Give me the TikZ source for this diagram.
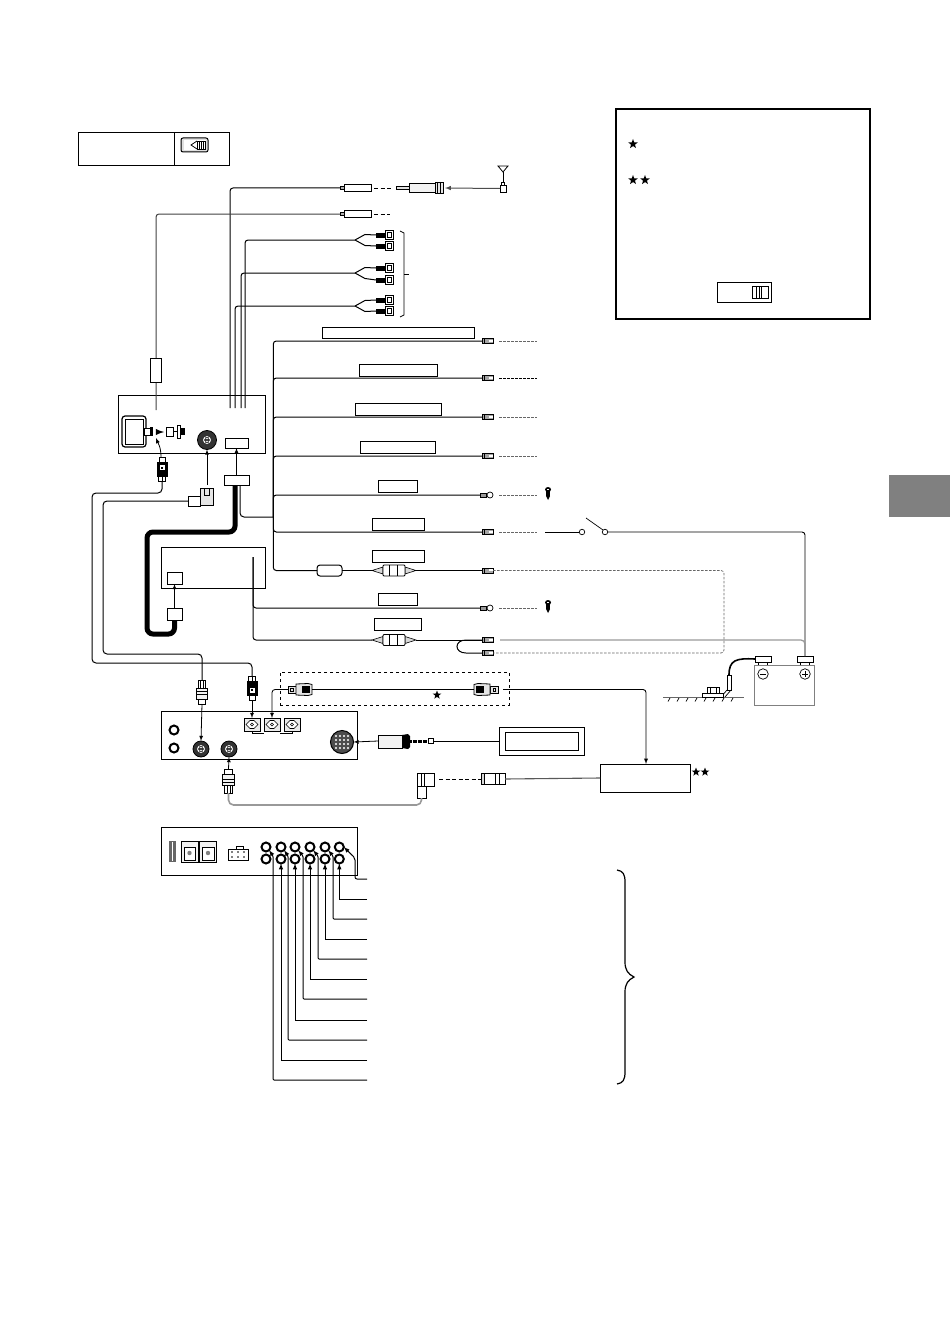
\documentclass[tikz,border=0pt]{standalone}
\usepackage{xcolor}
\usepackage{tikz}
\usetikzlibrary{shapes.geometric}

\tikzset{
  wire/.style={line width=1pt},
  graywire/.style={line width=1.3pt, color=black!40},
  stub/.style={line width=0.7pt, dashed, dash pattern=on 2.5pt off 1.5pt, color=black!60},
  darkstub/.style={line width=0.8pt, dash pattern=on 4pt off 2.5pt},
  box/.style 2 args={draw, line width=1pt, anchor=north west, inner sep=0pt, outer sep=0pt,
    minimum width=#1pt, minimum height=#2pt},
  lug/.style={draw, line width=0.5pt, fill=black!35, inner sep=0pt, outer sep=0pt,
    minimum width=11pt, minimum height=5pt,
    path picture={
      \draw[white, line width=0.6pt] ([xshift=2pt]path picture bounding box.center) rectangle ++(3pt,1.2pt);
      \draw[black, line width=0.7pt] ([xshift=-3pt]path picture bounding box.north) -- ([xshift=-3pt]path picture bounding box.south);
    }},
  ringtail/.style={draw, line width=0.5pt, fill=black!40, inner sep=0pt, outer sep=0pt,
    minimum width=6pt, minimum height=4pt},
  ringeye/.style={circle, draw, line width=0.7pt, fill=white, inner sep=0pt, outer sep=0pt, minimum size=6pt},
  jack/.style={circle, draw, line width=2pt, fill=white, inner sep=0pt, outer sep=0pt, minimum size=9pt},
  din/.style={circle, draw, line width=0.8pt, fill=black!80, inner sep=0pt, outer sep=0pt, minimum size=#1pt,
    path picture={
      \draw[white, line width=0.5pt] (path picture bounding box.center) circle (3.6pt);
      \foreach \a in {-2.5,0,2.5} \foreach \b in {-1.5,1.5}
        \fill[white] ([shift={(\a pt,\b pt)}]path picture bounding box.center) circle (0.8pt);
    }},
  bigdin/.style={circle, draw, line width=1pt, fill=black!70, inner sep=0pt, outer sep=0pt, minimum size=#1pt,
    path picture={
      \foreach \a in {-6,-2,2,6} \foreach \b in {-6,-2,2,6}
        \fill[white] ([shift={(\a pt,\b pt)}]path picture bounding box.center) circle (1.1pt);
    }},
  sticker/.style={star, star points=5, star point ratio=2.4, fill=black, inner sep=0pt, minimum size=10pt},
  contact/.style={circle, draw, line width=0.7pt, fill=white, inner sep=0pt, outer sep=0pt, minimum size=5.5pt},
  socket/.style={draw, line width=0.7pt, fill=black!8, inner sep=0pt, outer sep=0pt,
    minimum width=16pt, minimum height=13pt,
    path picture={
      \draw[line width=0.6pt, fill=white] ([xshift=-6pt]path picture bounding box.center) -- ++(4pt,-4pt) -- ++(4pt,0pt) -- ++(4pt,4pt) -- ++(-4pt,4pt) -- ++(-4pt,0pt) -- cycle;
      \draw[line width=0.6pt] (path picture bounding box.center) circle (1.5pt);
    }},
  rcaplug/.pic={
    \coordinate (-in) at (0,0);
    \fill (0,-2.5) rectangle (9,2.5);
    \draw[line width=0.6pt, fill=white] (9,-4.3) rectangle (17,4.3);
    \draw[line width=0.8pt] (11.5,-2.2) rectangle (15.5,2.2);
  },
  lightplug/.pic={
    \coordinate (-top) at (0,-12);
    \coordinate (-bot) at (0,12);
    \draw[line width=0.7pt, fill=white] (-3.8,-12) rectangle (3.8,-4);
    \draw[line width=0.5pt] (-1.3,-12) -- (-1.3,-4) (1.3,-12) -- (1.3,-4);
    \draw[line width=0.7pt, fill=black!5] (-5.8,-4) rectangle (5.8,7);
    \draw[line width=0.5pt] (-5.8,-1) -- (5.8,-1) (-5.8,2) -- (5.8,2);
    \draw[line width=0.7pt, fill=white] (-3.8,7) rectangle (3.8,12);
  },
  darkplug/.pic={
    \coordinate (-top) at (0,-12);
    \coordinate (-bot) at (0,12);
    \draw[line width=0.7pt, fill=white] (-3,-12) rectangle (3,-7);
    \draw[line width=0.9pt, fill=black] (-5,-7) rectangle (5,7);
    \fill[white] (-2.5,-4) rectangle (2.5,1);
    \fill (-1.2,-2.5) rectangle (1.2,-0.5);
    \draw[line width=0.7pt, fill=white] (-3.6,7) rectangle (3.6,12);
    \draw[line width=0.5pt] (0,7) -- (0,12);
  },
  holder/.pic={
    \coordinate (-in) at (-22,0);
    \coordinate (-out) at (22,0);
    \draw[line width=0.6pt, fill=black!15] (-22,0) -- (-11,-3.5) -- (-11,3.5) -- cycle;
    \draw[line width=0.6pt, fill=black!15] (22,0) -- (11,-3.5) -- (11,3.5) -- cycle;
    \draw[line width=0.8pt, fill=white, rounded corners=1] (-11,-5.5) rectangle (11,5.5);
    \draw[line width=0.7pt] (-5,-5.5) -- (-5,5.5) (3,-5.5) -- (3,5.5);
  },
  screw/.pic={
    \fill (0,-4.5) ellipse (3 and 2.5);
    \fill (-2,-3) rectangle (2,2);
    \fill (-2,2) -- (2,2) -- (0,6) -- cycle;
    \fill[white] (-1.4,-5.5) rectangle (1.4,-4.8);
  },
  cableplug/.pic={
    \coordinate (-in) at (0,0);
    \coordinate (-out) at (31,0);
    \draw[line width=0.7pt, fill=black!30] (0,-1.5) rectangle (4,1.5);
    \draw[line width=0.8pt, fill=white] (4,-3.5) rectangle (31,3.5);
  },
  shellplug/.pic={
    \coordinate (-in) at (0,0);
    \coordinate (-out) at (24,0);
    \draw[line width=0.8pt, fill=white] (3,-5.5) rectangle (24,5.5);
    \draw[line width=0.9pt, fill=black!15] (0,-5.5) rectangle (3,5.5);
    \draw[line width=0.6pt] (14,-5.5) -- (14,5.5) (18,-5.5) -- (18,5.5);
  },
  lockplug/.pic={
    \coordinate (-tail) at (0,0);
    \coordinate (-head) at (24,0);
    \draw[line width=0.7pt, fill=black!10] (0,-3.5) rectangle (8,3.5);
    \draw[line width=0.7pt] (2.5,-1.5) rectangle (5,1.5);
    \draw[line width=0.8pt, fill=black!10] (8,-5.5) -- (20,-6) -- (24,-5) -- (24,5) -- (20,6) -- (8,5.5) -- cycle;
    \fill (14,-3.5) rectangle (22,3.5);
  },
  >=latex
}

\begin{document}
\begin{tikzpicture}[x=1pt, y=-1pt]
  \useasboundingbox (0,0) rectangle (950,1343);

  % Side tab
  \fill[color=black!50] (889,475) rectangle (950,517);

  % Small legend top left
  \node[box={96}{33}] (modelBox) at (78,133) {};
  \node[box={55}{33}] (modelIcon) at (174,133) {};
  \node[box={27}{14}, rounded corners=2pt, fill=black!12] (iconFrame) at (181,138) {};
  \fill[white] (184,140) rectangle (206,150);
  \draw[line width=0.8pt] (197,141) -- (191,145) -- (197,149);
  \draw[line width=0.9pt] (197,141) rectangle (205,149);
  \draw[line width=0.9pt] (199,141) -- (199,149) (201,141) -- (201,149) (203,141) -- (203,149);

  % Note box top right
  \node[box={254}{210}, line width=2pt] (noteBox) at (616,109) {};
  \node[sticker] (noteStarA) at (633,144) {};
  \node[sticker] (noteStarB) at (633,180) {};
  \node[sticker] (noteStarC) at (645,180) {};
  \node[box={54}{20}] (noteSwitch) at (717,282) {};
  \node[box={16}{12}, line width=0.8pt] (noteSlider) at (752,286) {};
  \draw[line width=0.7pt] (756,286) -- (756,298) (759.5,286) -- (759.5,298) (761.5,286) -- (761.5,298);

  % Head unit
  \node[box={147}{58}] (headUnit) at (118,395) {};
  \node[box={23}{10}] (headPort) at (225,438) {};
  \node[din=19] (headDin) at (207,440) {};
  \node[box={24}{31}, rounded corners=3pt, line width=1.2pt] (tunerLoop) at (122,416) {};
  \draw[line width=0.5pt] (125,419) rectangle (143,444);
  \draw[line width=0.8pt, fill=white] (144,428) rectangle (150,435);
  \fill (150,427) rectangle (153,436);
  \draw[->, line width=1.8pt] (156,432) -- (164,432);
  \draw[line width=0.8pt, fill=white] (166,427) rectangle (173,436);
  \draw[line width=0.8pt] (173,431) -- (177,431);
  \draw[line width=0.8pt, fill=white] (177,425) rectangle (180,438);
  \fill (181,428) rectangle (185,435);

  % Antenna
  \coordinate (antTop) at (503,172);
  \draw[line width=0.8pt] (498,166) -- (508,166) -- (antTop) -- cycle;
  \node[box={6}{7}, line width=0.8pt] (antFoot) at (500,185) {};
  \draw[line width=0.8pt] (antTop) -- (antFoot.north);
  \draw[line width=0.6pt, fill=white] (501.5,182) rectangle (504.5,185);
  \coordinate (antJoin) at (445,188);
  \draw[->, line width=1pt, color=black!70] (antFoot.west) -- (antJoin);
  \draw[line width=0.7pt, fill=black!12] (396,186) rectangle (409,189.5);
  \draw[line width=0.8pt, fill=black!5] (409,183) rectangle (435,192);
  \draw[line width=0.8pt, fill=black!10] (435,182) rectangle (443,193);
  \draw[line width=0.5pt] (437.5,182) -- (437.5,193) (440,182) -- (440,193);

  % Upper cables from head unit
  \coordinate (antWire) at (230,408);
  \coordinate (rearWire) at (156,410);
  \pic (antPlug) at (340,188) {cableplug};
  \pic (rearPlug) at (340,214) {cableplug};
  \draw[wire, rounded corners=3] (antWire) |- (antPlug-in);
  \draw[wire, rounded corners=3, color=black!75] (rearWire) |- (rearPlug-in);
  \draw[darkstub] (antPlug-out) ++(3,0) -- ++(19,0);
  \draw[darkstub] (rearPlug-out) ++(3,0) -- ++(16,0);
  \node[box={11}{24}, fill=white] (rearBox) at (150,358) {};

  % RCA pairs
  \coordinate (rcaWireA) at (245,408);
  \coordinate (rcaWireB) at (241,408);
  \coordinate (rcaWireC) at (235,408);
  \coordinate (forkA) at (355,240);
  \coordinate (forkB) at (355,273);
  \coordinate (forkC) at (355,306);
  \pic (rcaA) at (376,235) {rcaplug};
  \pic (rcaB) at (376,246) {rcaplug};
  \pic (rcaC) at (376,268) {rcaplug};
  \pic (rcaD) at (376,280) {rcaplug};
  \pic (rcaE) at (376,300) {rcaplug};
  \pic (rcaF) at (376,311) {rcaplug};
  \draw[wire, rounded corners=3] (rcaWireA) |- (forkA);
  \draw[wire, rounded corners=3] (rcaWireB) |- (forkB);
  \draw[wire, rounded corners=3] (rcaWireC) |- (forkC);
  \draw[wire] (forkA) -- ++(10,-5.5) -- (rcaA-in);
  \draw[wire] (forkA) -- ++(10,5.5) -- (rcaB-in);
  \draw[wire] (forkB) -- ++(10,-5.5) -- (rcaC-in);
  \draw[wire] (forkB) -- ++(10,5.5) -- (rcaD-in);
  \draw[wire] (forkC) -- ++(10,-5.5) -- (rcaE-in);
  \draw[wire] (forkC) -- ++(10,5.5) -- (rcaF-in);
  % Brace of the RCA pairs
  \draw[line width=0.8pt] (400,231) -- (404,233) -- (404,315) -- (400,317);
  \draw[line width=0.8pt] (404,274) -- (409,274);

  % Harness with its bus
  \node[box={25}{10}] (harness) at (224,475) {};
  \coordinate (busJoin) at (273.3,517);
  \node[lug] (lugA) at (487.5,341) {};
  \node[lug] (lugB) at (487.5,378) {};
  \node[lug] (lugC) at (487.5,417) {};
  \node[lug] (lugD) at (487.5,456) {};
  \node[ringtail] (tailE) at (483,495) {};
  \node[ringeye] (eyeE) at (490,495) {};
  \node[lug] (lugF) at (487.5,532) {};
  \node[lug] (lugG) at (487.5,570.5) {};
  \node[ringtail] (tailH) at (483,608) {};
  \node[ringeye] (eyeH) at (490,608) {};
  \node[lug] (lugI) at (487.5,640) {};
  \node[lug] (lugK) at (487.5,653) {};
  \foreach \n in {lugA,lugB,lugC,lugD,tailE,lugF}
    \draw[wire, rounded corners=3] (\n.west) -| (busJoin);
  \draw[wire, rounded corners=4] (harness.south -| 240,485) |- (busJoin);
  \foreach \n in {lugA,lugC,lugD,lugF}
    \draw[stub] ([xshift=6pt]\n.east) -- ++(38,0);
  \draw[stub, color=black] ([xshift=6pt]lugB.east) -- ++(38,0);
  \draw[stub] ([xshift=6pt]eyeE.east) -- ++(38,0);
  \draw[stub] ([xshift=6pt]eyeH.east) -- ++(38,0);

  % Label boxes above the bus wires
  \node[box={152}{11}] (labelA) at (322,327) {};
  \node[box={78}{12}] (labelB) at (359,364) {};
  \node[box={86}{12}] (labelC) at (355,403) {};
  \node[box={75}{12}] (labelD) at (360,441) {};
  \node[box={39}{12}] (labelE) at (378,480) {};
  \node[box={52}{12}] (labelF) at (372,518) {};
  \node[box={52}{12}] (labelG) at (372,550) {};
  \node[box={39}{12}] (labelH) at (378,593) {};
  \node[box={47}{12}] (labelI) at (374,618) {};

  % Fused wire from the bus
  \node[box={25}{11}, rounded corners=3pt, fill=white] (fusePill) at (317,565) {};
  \draw[wire, rounded corners=3] (fusePill.west) -| (busJoin);
  \pic (holderA) at (394,570.5) {holder};
  \draw[wire] (fusePill.east) -- (holderA-in);
  \draw[wire] (holderA-out) -- (lugG.west);

  % Power amplifier
  \node[box={104}{41}] (ampBox) at (161,547) {};
  \node[box={15}{12}] (ampPort) at (167,572) {};
  \node[box={15}{12}, fill=white] (ampPlug) at (167,608) {};
  \draw[->, line width=0.8pt] (ampPlug.north) -- (ampPort.south);
  \draw[line width=5pt, rounded corners=6] (235,485) |- (147,532) |- (174.5,634) -- (ampPlug.south);
  \node[box={25}{10}, fill=white] (harnessCap) at (224,475) {};
  \draw[->, line width=0.8pt] (harnessCap.north) -- (headPort.south);

  % Wires out of the amplifier
  \coordinate (ampWire) at (253,557);
  \draw[wire, rounded corners=3] (ampWire) |- (tailH.west);
  \pic (holderB) at (394,640) {holder};
  \draw[wire, rounded corners=3] (ampWire) |- (holderB-in);
  \draw[wire] (holderB-out) -- (lugI.west);
  \draw[wire] (lugI.west) -- (466,640) .. controls (454,640) and (454,653) .. (466,653) -- (lugK.west);

  % Ignition switch
  \node[contact] (swIn) at (582,532) {};
  \node[contact] (swOut) at (605,532) {};
  \coordinate (swTip) at (586,518);
  \coordinate (swStart) at (545,532);
  \draw[line width=0.7pt] (swStart) -- (swIn.west);
  \draw[line width=0.7pt] (swTip) -- (swOut.north west);

  % Battery
  \node[box={60}{40}, color=black!50] (battery) at (754,665) {};
  \node[box={16}{6}, line width=0.8pt] (negTerm) at (755,656) {};
  \node[box={16}{6}, line width=0.8pt] (posTerm) at (797,656) {};
  \draw[line width=0.6pt] (758,662) -- (758,665) (767,662) -- (767,665);
  \draw[line width=0.6pt] (800,662) -- (800,665) (809,662) -- (809,665);
  \node[circle, draw, line width=0.7pt, inner sep=0pt, minimum size=10.5pt] (negSign) at (763,674) {};
  \node[circle, draw, line width=0.7pt, inner sep=0pt, minimum size=10.5pt] (posSign) at (805,674) {};
  \draw[line width=0.8pt] (760,674) -- (766,674);
  \draw[line width=0.8pt] (802,674) -- (808,674) (805,671) -- (805,677);
  \draw[line width=0.9pt, rounded corners=3] (swOut.east) -| (posTerm.north);
  \draw[graywire, rounded corners=4] ([xshift=7pt]lugI.east) -| (posTerm.north);
  \draw[stub, rounded corners=3] (lugG.east) -| (724,610) |- (lugK.east);

  % Ground point
  \coordinate (groundLug) at (729,675);
  \draw[line width=1.6pt] (negTerm.west) .. controls (736,658) and (729,660) .. (groundLug);
  \draw[line width=0.7pt, fill=white] (727,675) rectangle (731,690);
  \draw[line width=0.7pt] (731,690) -- (725,697) (727,690) -- (721,697);
  \draw[line width=0.8pt, color=black!60] (663,697) -- (744,697);
  \foreach \x in {668,677,686,695,704,713,722,731}
    \draw[line width=0.7pt] (\x,701.5) -- (\x+2,698);
  \draw[line width=0.8pt, fill=white] (702,693) rectangle (723,697);
  \draw[line width=0.8pt, fill=white] (707,687) rectangle (719,693);
  \draw[line width=0.6pt] (710,687) -- (710,693) (716,687) -- (716,693);

  % Screws
  \pic (screwA) at (548,494) {screw};
  \pic (screwB) at (548,607) {screw};

  % Main changer box
  \node[box={196}{48}] (changer) at (161,711) {};
  \node[jack] (changerJackA) at (174,730) {};
  \node[jack] (changerJackB) at (174,748) {};
  \node[din=16] (changerDinA) at (201,749) {};
  \node[din=16] (changerDinB) at (229,749) {};
  \node[bigdin=23] (changerDinC) at (342,742) {};
  \node[socket] (sockA) at (252,724.5) {};
  \node[socket] (sockB) at (272,724.5) {};
  \node[socket] (sockC) at (292,724.5) {};
  \draw[line width=0.8pt] (sockA.south) |- (264,733.5);
  \draw[line width=0.8pt] (sockC.south) |- (280,733.5);

  % Long cables to the changer
  \pic (topPlug) at (162,469) {darkplug};
  \pic[rotate=180] (lowPlugB) at (252,688.5) {darkplug};
  \pic (lowPlugA) at (202,692) {lightplug};
  \pic[rotate=180] (lowPlugC) at (228.5,781) {lightplug};
  \draw[wire, rounded corners=4] (topPlug-bot) |- (92,493) |- (240,663) -| (lowPlugB-bot);
  \draw[->, line width=0.8pt] (161,457) .. controls (161,447) and (158,443) .. (156,438);
  \draw[->, line width=0.8pt] (lowPlugB-top) -- (sockA.north);
  \draw[->, line width=0.8pt] (lowPlugA-bot) -- (changerDinA.north);
  \draw[->, line width=0.8pt] (lowPlugC-bot) -- (changerDinB.south);

  % Right angle connector at the head unit
  \node[box={13}{17}, line width=0.9pt, fill=black!10] (angleBody) at (200,488) {};
  \node[box={12}{10}, line width=0.7pt, fill=white] (angleTail) at (188,496) {};
  \draw[line width=0.6pt] (204,488) rectangle (209,495);
  \draw[wire, rounded corners=4] (angleTail.west) -| (103,560) |- (190,654) -| (lowPlugA-top);
  \coordinate (angleArrow) at (207,485);
  \draw[->, line width=0.8pt] (angleArrow) -- (headDin.south);

  % Dashed group with the optional cable
  \node[box={229}{33}, dashed, line width=0.8pt] (optGroup) at (280,672) {};
  \pic (lockA) at (288,689.5) {lockplug};
  \pic[xscale=-1] (lockB) at (498,689.5) {lockplug};
  \draw[wire] (lockA-head) -- (lockB-head);
  \node[sticker, minimum size=9pt] (optStar) at (437,695) {};
  \draw[->, line width=0.8pt, rounded corners=3] (lockA-tail) -| (sockB.north);

  % Unit with two stars
  \node[box={90}{28}] (extraBox) at (600,764) {};
  \node[sticker, minimum size=9pt] (extraStarA) at (696,772) {};
  \node[sticker, minimum size=9pt] (extraStarB) at (705,772) {};
  \coordinate (lockOut) at (503,689.5);
  \draw[->, line width=0.9pt, rounded corners=3] (lockOut) -| (extraBox.north -| 646,764);
  \pic (shellA) at (481,779) {shellplug};
  \draw[line width=1.1pt, color=black!65] (shellA-out) -- (extraBox.west);

  % Display with its plug
  \node[box={85}{28}] (displayOuter) at (499,727) {};
  \node[box={73}{18}] (displayInner) at (505,732) {};
  \coordinate (displayPlug) at (433,741);
  \draw[line width=0.9pt] (displayPlug) -- (displayOuter.west);
  \draw[line width=0.7pt, fill=white] (428,738.5) rectangle (433,743.5);
  \draw[line width=3pt, dash pattern=on 2pt off 0.5pt] (410,741) -- (428,741);
  \fill (402,735) -- (408,734) -- (410,736) -- (410,747) -- (408,749) -- (402,748) -- cycle;
  \draw[line width=0.5pt, fill=black!5] (378,735) rectangle (402,748);
  \draw[->, line width=0.8pt] (378,741) -- (changerDinC.east);

  % Right angle connector below the changer
  \node[box={17}{13}, line width=0.8pt, fill=white] (lowAngle) at (417,773) {};
  \node[box={9}{12}, line width=0.8pt, fill=white] (lowAngleTail) at (417,786) {};
  \draw[line width=0.6pt] (421,773) -- (421,786) (424,773) -- (424,786);
  \draw[darkstub] (lowAngle.east |- shellA-in) ++(5,0) -- (shellA-in);
  \coordinate (lowRun) at (325,805);
  \draw[line width=1.6pt, color=black!40, rounded corners=5] (lowAngleTail.south) |- (lowRun) -| (lowPlugC-top);

  % Rear panel with RCA jacks
  \node[box={196}{48}] (rearPanel) at (161,827) {};
  \fill[color=black!60] (169,841) rectangle (176,862);
  \draw[white, line width=0.4pt] (172.5,842) -- (172.5,861);
  \node[box={17}{21}, line width=0.7pt, fill=black!5] (fanA) at (181,841) {};
  \node[box={17}{21}, line width=0.7pt, fill=black!5] (fanB) at (199,841) {};
  \draw[line width=0.7pt, fill=white] (184,847) rectangle (195,860);
  \draw[line width=0.7pt, fill=white] (202,847) rectangle (214,860);
  \fill[color=black!50] (189.5,853) circle (2.2) (208,853) circle (2.2);
  \node[box={20}{11}, line width=0.6pt] (pinBlock) at (228,849) {};
  \draw[line width=0.6pt] (236,849) -- (236,846.5) -- (243,846.5) -- (243,849);
  \foreach \x in {232,238,244} {
    \fill (\x,852) circle (0.8);
    \fill (\x,857) circle (0.8);
  }
  \node[jack] (jackTopA) at (266,847) {};
  \node[jack] (jackTopB) at (281,847) {};
  \node[jack] (jackTopC) at (295,847) {};
  \node[jack] (jackTopD) at (310,847) {};
  \node[jack] (jackTopE) at (325,847) {};
  \node[jack] (jackTopF) at (339.3,847) {};
  \node[jack] (jackLowA) at (266,859) {};
  \node[jack] (jackLowB) at (281,859) {};
  \node[jack] (jackLowC) at (295,859) {};
  \node[jack] (jackLowD) at (310,859) {};
  \node[jack] (jackLowE) at (325,859) {};
  \node[jack] (jackLowF) at (339.3,859) {};

  % Leads to the RCA jacks
  \draw[->, line width=1pt, rounded corners=2] (367,879) -| (355,858) -- (jackTopF.east);
  \draw[->, line width=1pt] (367,899) -| (jackLowF.south);
  \draw[->, line width=1pt, rounded corners=1] (367,919) -| (333,856) -- (jackTopE.south east);
  \draw[->, line width=1pt] (367,939) -| (jackLowE.south);
  \draw[->, line width=1pt, rounded corners=1] (367,959) -| (318,856) -- (jackTopD.south east);
  \draw[->, line width=1pt] (367,979) -| (jackLowD.south);
  \draw[->, line width=1pt, rounded corners=1] (367,999) -| (303,856) -- (jackTopC.south east);
  \draw[->, line width=1pt] (367,1020) -| (jackLowC.south);
  \draw[->, line width=1pt, rounded corners=1] (367,1040) -| (288,856) -- (jackTopB.south east);
  \draw[->, line width=1pt] (367,1060) -| (jackLowB.south);
  \draw[->, line width=1pt, rounded corners=1] (367,1080) -| (273,856) -- (jackTopA.south east);

  % Large brace
  \draw[line width=1.2pt] (617,870) .. controls (623,871) and (625,874) .. (625,882) -- (625,962) .. controls (625,970) and (628,974) .. (634,977) .. controls (628,980) and (625,984) .. (625,992) -- (625,1072) .. controls (625,1080) and (623,1083) .. (617,1084);
\end{tikzpicture}
\end{document}
